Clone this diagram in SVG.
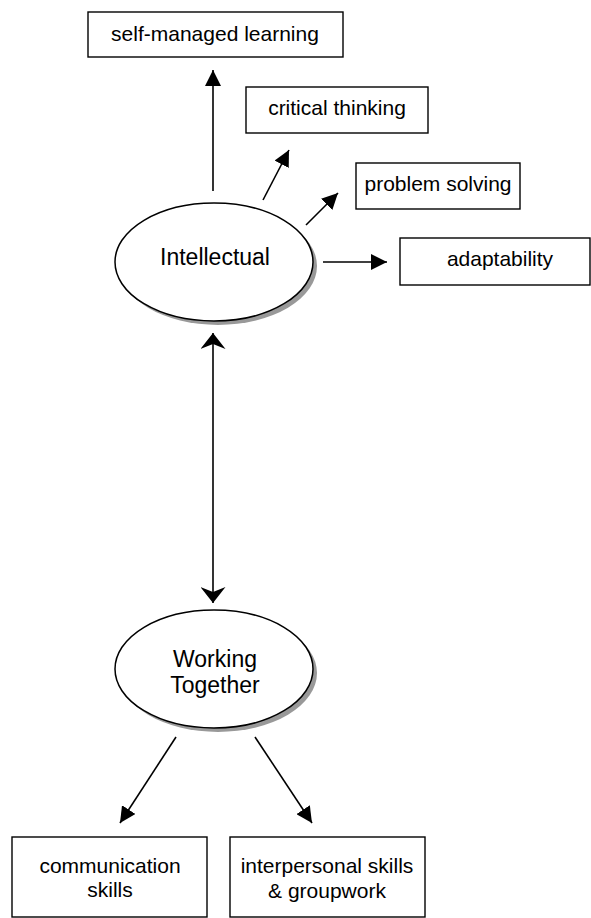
<svg xmlns="http://www.w3.org/2000/svg" width="591" height="918" viewBox="0 0 591 918">
  <style>
    .box { fill: #ffffff; stroke: #000000; stroke-width: 1.4; }
    .oval { fill: #ffffff; stroke: #000000; stroke-width: 1.5; }
    .shadow { fill: #999999; stroke: none; }
    .label { font-family: "Liberation Sans", Arial, sans-serif; font-size: 21px; fill: #000000; text-anchor: middle; }
    .big { font-size: 23px; }
    .link { stroke: #000000; stroke-width: 1.6; fill: none; }
  </style>
  <defs>
    <marker id="arrow" markerUnits="userSpaceOnUse" markerWidth="16" markerHeight="16" refX="16" refY="8" orient="auto">
      <path d="M0,0 L16,8 L0,16 z" fill="#000000"/>
    </marker>
    <marker id="stealth" markerUnits="userSpaceOnUse" markerWidth="17" markerHeight="25" refX="16" refY="12.5" orient="auto-start-reverse">
      <path d="M0,0 L16,12.5 L0,25 L5,12.5 z" fill="#000000"/>
    </marker>
  </defs>

  <!-- connectors -->
  <g id="connectors">
    <line class="link" x1="213" y1="191" x2="213" y2="70" marker-end="url(#arrow)"/>
    <line class="link" x1="263" y1="200" x2="289" y2="150" marker-end="url(#arrow)"/>
    <line class="link" x1="306" y1="225" x2="338" y2="193" marker-end="url(#arrow)"/>
    <line class="link" x1="323" y1="262" x2="387" y2="262" marker-end="url(#arrow)"/>
    <line class="link" x1="213" y1="333" x2="213" y2="603" marker-start="url(#stealth)" marker-end="url(#stealth)"/>
    <line class="link" x1="176" y1="737" x2="120" y2="823" marker-end="url(#arrow)"/>
    <line class="link" x1="255" y1="737" x2="312" y2="823" marker-end="url(#arrow)"/>
  </g>

  <!-- intellectual ellipse -->
  <g id="intellectual">
    <ellipse class="shadow" cx="218" cy="266" rx="99" ry="59"/>
    <ellipse class="oval" cx="214" cy="262" rx="99" ry="59"/>
    <text class="label big" x="215" y="265">Intellectual</text>
  </g>

  <!-- working together ellipse -->
  <g id="working-together">
    <ellipse class="shadow" cx="218" cy="673" rx="99" ry="59"/>
    <ellipse class="oval" cx="214" cy="669" rx="99" ry="59"/>
    <text class="label big" x="215" y="667">Working</text>
    <text class="label big" x="215" y="693">Together</text>
  </g>

  <g id="self-managed-learning">
    <rect class="box" x="88" y="12" width="255" height="45"/>
    <text class="label" x="215" y="41">self-managed learning</text>
  </g>

  <g id="critical-thinking">
    <rect class="box" x="246" y="87" width="182" height="46"/>
    <text class="label" x="337" y="115">critical thinking</text>
  </g>

  <g id="problem-solving">
    <rect class="box" x="356" y="163" width="164" height="46"/>
    <text class="label" x="438" y="191">problem solving</text>
  </g>

  <g id="adaptability">
    <rect class="box" x="400" y="238" width="190" height="47"/>
    <text class="label" x="500" y="266">adaptability</text>
  </g>

  <g id="communication-skills">
    <rect class="box" x="12" y="837" width="195" height="80"/>
    <text class="label" x="110" y="873">communication</text>
    <text class="label" x="110" y="897">skills</text>
  </g>

  <g id="interpersonal-skills">
    <rect class="box" x="230" y="837" width="195" height="80"/>
    <text class="label" x="327" y="873">interpersonal skills</text>
    <text class="label" x="327" y="898">&amp; groupwork</text>
  </g>
</svg>
